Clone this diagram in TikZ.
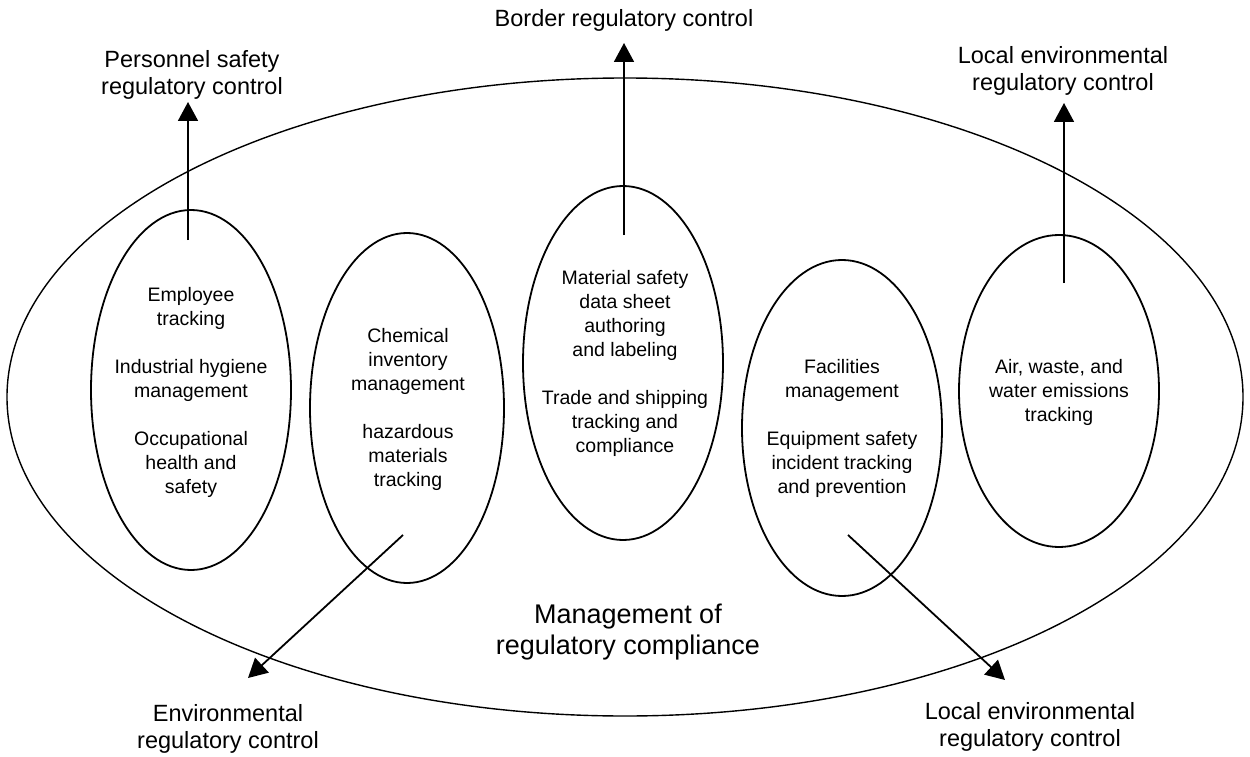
\documentclass[tikz,border=0pt]{standalone}
\usepackage{fontspec}
\setmainfont{Liberation Sans}
\usetikzlibrary{arrows.meta,shapes.geometric}
\tikzset{
  ring/.style={ellipse, draw, line width=1.4pt, inner sep=0pt},
  area/.style={ellipse, draw, line width=1.8pt, inner sep=0pt, minimum width=200pt},
  duty/.style={align=center, inner sep=0pt, font=\fontsize{19.5}{24}\selectfont},
  reg/.style={align=center, inner sep=1pt, font=\fontsize{23.5}{27.5}\selectfont},
  ctrl/.style={-{Triangle[length=19pt,width=20pt]}, line width=1.8pt},
}

\begin{document}
\begin{tikzpicture}[x=1pt,y=-1pt]
    \useasboundingbox (0,0) rectangle (1250,757);
    % outer boundary
    \node[ring,minimum width=1236pt,minimum height=638pt] (mgmt) at (625,397) {};
    \node[align=center,font=\fontsize{27}{31.5}\selectfont] (mgmtlbl) at (628,632) {Management of\\regulatory compliance};
    % functional areas
    \node[area,minimum height=360pt] (emp) at (191,390) {};
    \node[area,minimum width=194pt,minimum height=350pt] (chem) at (407,408) {};
    \node[area,minimum height=354pt] (msds) at (623,363) {};
    \node[area,minimum height=336pt] (fac) at (842,428) {};
    \node[area,minimum height=312pt] (air) at (1059,391) {};
    \node[duty] (emptxt) at (191,392) {Employee\\tracking\\[24pt]Industrial hygiene\\management\\[24pt]Occupational\\health and\\safety};
    \node[duty] (chemtxt) at (408,409) {Chemical\\inventory\\management\\[24pt]hazardous\\materials\\tracking};
    \node[duty] (msdstxt) at (625,363) {Material safety\\data sheet\\authoring\\and labeling\\[24pt]Trade and shipping\\tracking and\\compliance};
    \node[duty] (factxt) at (842,428) {Facilities\\management\\[24pt]Equipment safety\\incident tracking\\and prevention};
    \node[duty] (airtxt) at (1059,392) {Air, waste, and\\water emissions\\tracking};
    % regulators
    \node[reg] (perslbl) at (192,75) {Personnel safety\\regulatory control};
    \node[reg] (bordlbl) at (624,20) {Border regulatory control};
    \node[reg] (locuplbl) at (1063,71) {Local environmental\\regulatory control};
    \node[reg] (envlbl) at (228,729) {Environmental\\regulatory control};
    \node[reg] (loclowlbl) at (1030,727) {Local environmental\\regulatory control};
    % arrows out of the areas
    \coordinate (empout) at (188,240);
    \coordinate (perstip) at (188,102);
    \coordinate (msdsout) at (624,235);
    \coordinate (bordtip) at (624,43);
    \coordinate (airout) at (1064,283);
    \coordinate (locuptip) at (1064,103);
    \coordinate (chemout) at (403,535);
    \coordinate (envtip) at (248,678);
    \coordinate (facout) at (848,535);
    \coordinate (loclowtip) at (1005,680);
    \draw[ctrl] (empout) -- (perstip);
    \draw[ctrl] (msdsout) -- (bordtip);
    \draw[ctrl] (airout) -- (locuptip);
    \draw[ctrl] (chemout) -- (envtip);
    \draw[ctrl] (facout) -- (loclowtip);
\end{tikzpicture}
\end{document}
